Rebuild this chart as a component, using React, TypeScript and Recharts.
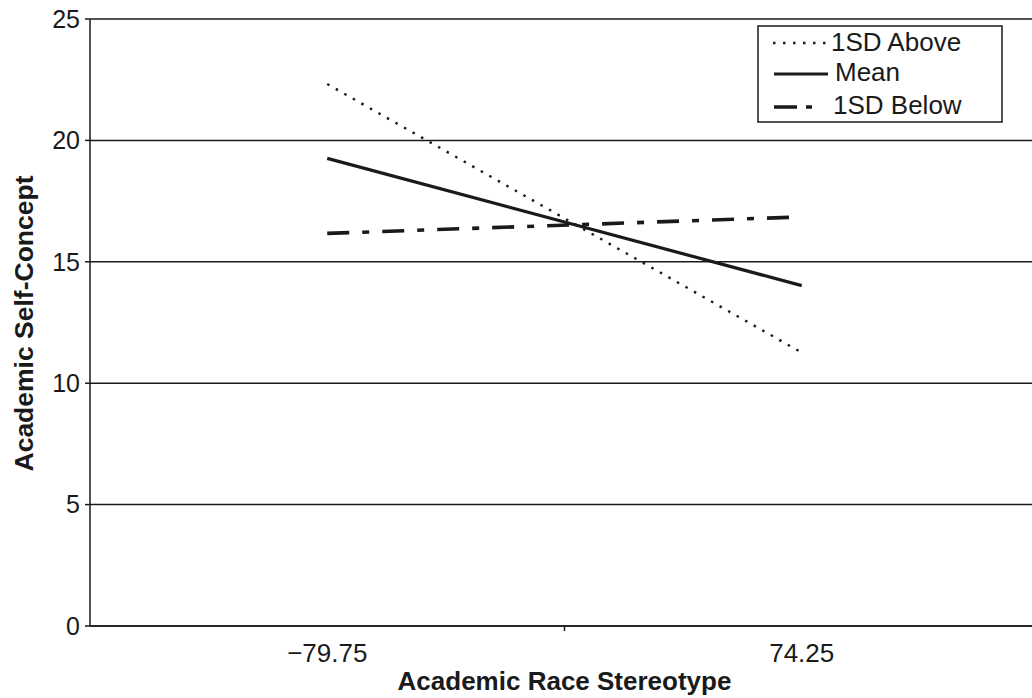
import React from 'react';
import { LineChart, Line, XAxis, YAxis, CartesianGrid, Legend } from 'recharts';

const categories = ['\u221279.75', '74.25'];
const aboveValues = [22.32, 11.26];
const meanValues = [19.26, 14.02];
const belowValues = [16.17, 16.85];
const yTicks = [0, 5, 10, 15, 20, 25];
const xTicks = [0.5, 1, 1.5];

const data = categories.map((c, i) => ({
  x: i + 0.5,
  label: c,
  above: aboveValues[i],
  mean: meanValues[i],
  below: belowValues[i],
}));

const FONT = 'Liberation Sans, Arial, Helvetica, sans-serif';
const INK = '#1a1a1a';

const series = [
  { key: 'above', name: '1SD Above', width: 2.4, dash: '2.5 7.3', legendDash: '2.5 7.5', lx1: 16, lx2: 70, ly: 18, tx: 74, ty: 26 },
  { key: 'mean', name: 'Mean', width: 3.2, dash: undefined, legendDash: undefined, lx1: 17, lx2: 71, ly: 49, tx: 78, ty: 56 },
  { key: 'below', name: '1SD Below', width: 3.6, dash: '22 13 7 13', legendDash: '23 9 6 100', lx1: 17, lx2: 56, ly: 82, tx: 76, ty: 89 },
];

const XTick = (props: any) => {
  const { x, y, payload } = props;
  const v = payload.value;
  if (Number.isInteger(v)) {
    return <line x1={x} x2={x} y1={y} y2={y + 5} stroke={INK} strokeWidth={1.5} />;
  }
  const idx = Math.floor(v);
  return (
    <text x={x} y={y + 36} textAnchor="middle" fontSize={26} fill={INK} fontFamily={FONT}>
      {categories[idx]}
    </text>
  );
};

const YTick = (props: any) => {
  const { x, y, payload } = props;
  return (
    <text x={x} y={y} dy="0.355em" textAnchor="end" fontSize={25} fill={INK} fontFamily={FONT}>
      {payload.value}
    </text>
  );
};

const LegendBox = () => (
  <svg width={246} height={98} style={{ display: 'block' }}>
    <rect x={1} y={1} width={244} height={96} fill="#fff" stroke={INK} strokeWidth={1.5} />
    {series.map((s) => (
      <g key={s.key}>
        <line x1={s.lx1} x2={s.lx2} y1={s.ly} y2={s.ly} stroke={INK} strokeWidth={s.width} strokeDasharray={s.legendDash} />
        <text x={s.tx} y={s.ty} fontSize={26} fill={INK} fontFamily={FONT}>
          {s.name}
        </text>
      </g>
    ))}
  </svg>
);

export default function App() {
  return (
    <div style={{ position: 'absolute', left: 0, top: 0, width: 1032, height: 698, overflow: 'hidden', background: '#fff' }}>
      <LineChart width={1039} height={698} data={data} margin={{ top: 19, right: 0, bottom: 0, left: 0 }}>
        <CartesianGrid horizontal vertical={false} stroke={INK} strokeWidth={1.5} />
        <XAxis
          dataKey="x"
          type="number"
          domain={[0, 2]}
          ticks={xTicks}
          interval={0}
          height={72}
          tickSize={0}
          tickMargin={0}
          tickLine={false}
          axisLine={{ stroke: INK, strokeWidth: 1.5 }}
          tick={<XTick />}
          label={{
            content: (p: any) => {
              const vb = p.viewBox;
              return (
                <text x={vb.x + vb.width / 2} y={vb.y + 64} textAnchor="middle" fontSize={26} fontWeight="bold" fill={INK} fontFamily={FONT}>
                  Academic Race Stereotype
                </text>
              );
            },
          }}
        />
        <YAxis
          type="number"
          domain={[0, 25]}
          ticks={yTicks}
          interval={0}
          width={90}
          tickSize={5}
          tickMargin={5}
          tickLine={{ stroke: INK, strokeWidth: 1.5 }}
          axisLine={{ stroke: INK, strokeWidth: 1.5 }}
          tick={<YTick />}
          label={{
            content: (p: any) => {
              const vb = p.viewBox;
              const cy = vb.y + vb.height / 2 + 1;
              return (
                <text x={33} y={cy} transform={`rotate(-90, 33, ${cy})`} textAnchor="middle" fontSize={26.5} fontWeight="bold" fill={INK} fontFamily={FONT}>
                  Academic Self-Concept
                </text>
              );
            },
          }}
        />
        <Legend
          layout="vertical"
          verticalAlign="middle"
          align="center"
          content={<LegendBox />}
          wrapperStyle={{ position: 'absolute', left: 757, top: 25, width: 246, height: 98 }}
        />
        {series.map((s) => (
          <Line
            key={s.key}
            dataKey={s.key}
            name={s.name}
            stroke={INK}
            strokeWidth={s.width}
            strokeDasharray={s.dash}
            dot={false}
            activeDot={false}
            isAnimationActive={false}
            type="linear"
          />
        ))}
      </LineChart>
    </div>
  );
}
